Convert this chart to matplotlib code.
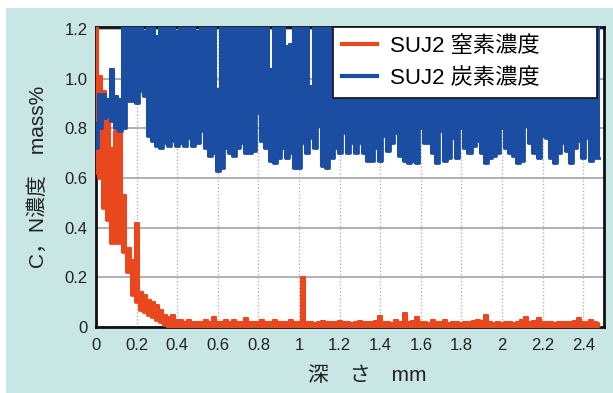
import numpy as np
import matplotlib.pyplot as plt
from matplotlib.patches import Rectangle

plt.rcParams['font.family'] = ['Liberation Sans', 'Noto Sans CJK JP', 'DejaVu Sans']

# 深さ (mm): 0.02 mm pitch
depth = np.round(np.arange(0, 2.5, 0.02), 2)

# 炭素濃度 (mass%) lower / upper envelope of the scatter
carbon_low = [
    0.72, 0.80, 0.84, 0.85, 0.83, 0.80, 0.79, 0.80, 0.91, 0.91,
    0.90, 0.95, 0.93, 0.77, 0.75, 0.73, 0.72, 0.74, 0.73, 0.75,
    0.73, 0.74, 0.73, 0.76, 0.73, 0.74, 0.79, 0.72, 0.69, 0.70,
    0.63, 0.64, 0.72, 0.70, 0.69, 0.72, 0.74, 0.70, 0.70, 0.71,
    0.86, 0.75, 0.72, 0.67, 0.66, 0.68, 0.72, 0.68, 0.70, 0.64,
    0.64, 0.74, 0.70, 0.76, 0.72, 0.81, 0.65, 0.64, 0.68, 0.72,
    0.70, 0.78, 0.70, 0.74, 0.70, 0.74, 0.70, 0.67, 0.67, 0.72,
    0.67, 0.77, 0.71, 0.74, 0.78, 0.69, 0.67, 0.66, 0.67, 0.66,
    0.80, 0.74, 0.74, 0.70, 0.66, 0.79, 0.67, 0.68, 0.76, 0.68,
    0.80, 0.72, 0.70, 0.73, 0.75, 0.70, 0.66, 0.68, 0.69, 0.70,
    0.80, 0.72, 0.70, 0.69, 0.66, 0.67, 0.81, 0.74, 0.70, 0.68,
    0.77, 0.76, 0.68, 0.66, 0.70, 0.74, 0.71, 0.66, 0.72, 0.75,
    0.68, 0.76, 0.67, 0.68, 0.68,
]
carbon_high = [
    0.82, 0.94, 0.94, 0.92, 1.04, 0.93, 0.92, 1.25, 1.25, 1.25,
    1.25, 1.25, 1.19, 1.25, 1.25, 1.17, 1.25, 1.25, 1.25, 1.25,
    1.19, 1.25, 1.25, 1.25, 1.25, 1.19, 1.25, 1.25, 1.25, 1.25,
    0.96, 1.25, 1.25, 1.25, 1.25, 1.25, 1.25, 1.25, 1.25, 1.25,
    1.25, 1.25, 1.25, 1.04, 1.25, 1.25, 1.25, 1.13, 1.14, 1.25,
    1.25, 1.25, 1.25, 0.97, 1.25, 1.25, 1.25, 1.25, 1.25, 1.25,
    1.19, 1.25, 1.25, 1.25, 1.25, 1.25, 1.19, 1.25, 1.25, 1.25,
    1.25, 1.25, 1.25, 1.19, 1.25, 1.25, 1.25, 1.25, 1.19, 1.25,
    1.25, 1.25, 1.25, 1.25, 1.19, 1.25, 1.25, 1.25, 1.25, 1.25,
    1.19, 1.25, 1.25, 1.25, 1.25, 1.19, 1.25, 1.25, 1.25, 1.25,
    1.25, 1.19, 1.25, 1.25, 1.25, 1.25, 1.25, 1.25, 1.19, 1.25,
    1.25, 1.25, 1.25, 1.25, 1.25, 1.19, 1.25, 1.25, 1.25, 1.25,
    1.25, 1.25, 1.25, 1.25, 1.25,
]

# 窒素濃度 (mass%) lower / upper envelope
nitrogen_low = [
    0.62, 0.60, 0.48, 0.43, 0.34, 0.34, 0.34, 0.30, 0.22, 0.13,
    0.10, 0.07, 0.06, 0.05, 0.04, 0.03, 0.02, 0.01, 0.00, 0.00,
] + [0.00] * 105
nitrogen_high = [
    1.25, 1.01, 0.95, 0.85, 0.72, 0.79, 0.78, 0.53, 0.32, 0.27,
    0.42, 0.14, 0.13, 0.11, 0.10, 0.09, 0.07, 0.05, 0.04, 0.05,
    0.03, 0.03, 0.02, 0.03, 0.02, 0.02, 0.02, 0.03, 0.02, 0.04,
    0.02, 0.02, 0.03, 0.02, 0.03, 0.02, 0.02, 0.035, 0.02, 0.02,
    0.02, 0.03, 0.02, 0.02, 0.03, 0.02, 0.02, 0.02, 0.03, 0.02,
    0.02, 0.20, 0.02, 0.02, 0.015, 0.02, 0.025, 0.02, 0.02, 0.02,
    0.025, 0.02, 0.02, 0.015, 0.02, 0.025, 0.02, 0.02, 0.02, 0.025,
    0.045, 0.02, 0.02, 0.015, 0.03, 0.02, 0.055, 0.02, 0.025, 0.04,
    0.02, 0.02, 0.015, 0.03, 0.02, 0.02, 0.03, 0.015, 0.02, 0.02,
    0.015, 0.02, 0.02, 0.025, 0.03, 0.025, 0.05, 0.02, 0.015, 0.02,
    0.015, 0.02, 0.02, 0.015, 0.02, 0.03, 0.04, 0.02, 0.025, 0.035,
    0.02, 0.02, 0.02, 0.015, 0.02, 0.02, 0.02, 0.02, 0.025, 0.035,
    0.02, 0.02, 0.03, 0.02, 0.015,
]

x_ticks = [0, 0.2, 0.4, 0.6, 0.8, 1.0, 1.2, 1.4, 1.6, 1.8, 2.0, 2.2, 2.4]
x_ticklabels = ['0', '0.2', '0.4', '0.6', '0.8', '1', '1.2', '1.4', '1.6', '1.8', '2', '2.2', '2.4']
y_ticks = [0, 0.2, 0.4, 0.6, 0.8, 1.0, 1.2]
y_ticklabels = ['0', '0.2', '0.4', '0.6', '0.8', '1.0', '1.2']

red = '#e9481f'
blue = '#1b4ea3'
teal = '#c8e6e4'

fig = plt.figure(figsize=(6.13, 3.93), dpi=100)
fig.patch.set_facecolor('white')
fig.add_artist(Rectangle((6 / 613, 0), 1, 385 / 393, transform=fig.transFigure,
                         facecolor=teal, edgecolor='none', zorder=0))

ax = fig.add_axes([96 / 613, 66 / 393, 507.5 / 613, 300 / 393])
ax.set_facecolor('white')


def band(ax, x, low, high, color, z, label=None):
    # filled min-max band, outlined with a thick line for the rounded edge
    ax.fill_between(x, low, high, step='mid', facecolor=color, edgecolor=color,
                    lw=1.5, zorder=z, antialiased=False)
    ax.plot(x, low, drawstyle='steps-mid', color=color, lw=2, zorder=z, label=label,
            solid_joinstyle='round')


# nitrogen first, carbon on top of it
band(ax, depth, nitrogen_low, nitrogen_high, red, 3, 'SUJ2 窒素濃度')
band(ax, depth, carbon_low, carbon_high, blue, 4, 'SUJ2 炭素濃度')

ax.set_xlim(0, 2.5)
ax.set_ylim(0, 1.208)
ax.set_xticks(x_ticks)
ax.set_xticklabels(x_ticklabels)
ax.set_yticks(y_ticks)
ax.set_yticklabels(y_ticklabels)
ax.tick_params(length=0, labelsize=12, colors='#222222')
ax.tick_params(axis='x', pad=8)
ax.tick_params(axis='y', pad=6)

ax.grid(axis='y', color='#a3a3a3', lw=1.2, zorder=1)
ax.grid(axis='x', color='#b5b5b5', lw=1, ls=(0, (1, 1.5)), zorder=1)
ax.set_axisbelow(True)
for s in ax.spines.values():
    s.set_color('#111111')
    s.set_linewidth(2)
    s.set_zorder(2.5)

ax.set_xlabel('深　さ　mm', fontsize=15, color='#222222')
ax.xaxis.set_label_coords(0.534, -0.13)
ax.set_ylabel('C，N濃度　mass%', fontsize=15, color='#222222')
ax.yaxis.set_label_coords(-0.095, 0.5)

leg = ax.legend(loc='upper left', bbox_to_anchor=(0.467, 0.737, 0.52, 0.263), mode='expand',
                borderaxespad=0, fontsize=16, handlelength=1.6, handletextpad=0.55,
                fancybox=False, framealpha=1, edgecolor='#111111')
leg.get_frame().set_linewidth(1.2)
leg.set_zorder(6)
for line in leg.get_lines():
    line.set_linewidth(3)

fig.savefig('out.png', dpi=100)
